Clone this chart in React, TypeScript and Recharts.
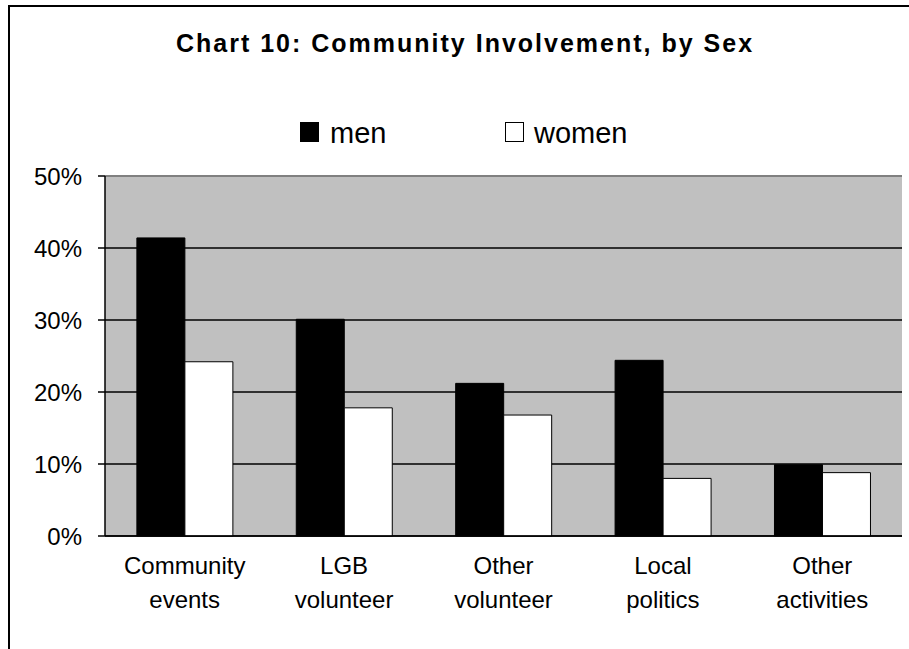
import React from "react";
import { BarChart, Bar, XAxis, YAxis, CartesianGrid, Legend, ReferenceLine } from "recharts";

// values
const categories = ["Community\nevents", "LGB\nvolunteer", "Other\nvolunteer", "Local\npolitics", "Other\nactivities"];
const menValues = [0.414, 0.301, 0.212, 0.244, 0.099];
const womenValues = [0.242, 0.178, 0.168, 0.08, 0.088];
const yTicks = [0, 0.1, 0.2, 0.3, 0.4, 0.5];
const edgeTicks = [0, 1, 2, 3, 4, 5];

const FONT = "'Liberation Sans', Arial, sans-serif";

const data = categories.map((name, i) => ({
  name,
  men: menValues[i],
  women: womenValues[i],
}));

function CategoryTick({ x, y, payload }: any) {
  const lines = String(payload.value).split("\n");
  return (
    <g>
      {lines.map((line, i) => (
        <text
          key={i}
          x={x}
          y={y + 29 + i * 34}
          textAnchor="middle"
          fontFamily={FONT}
          fontSize={24}
          fill="#000"
        >
          {line}
        </text>
      ))}
    </g>
  );
}

function LegendBox() {
  const items = [
    { label: "men", fill: "#000", box: 300, text: 330 },
    { label: "women", fill: "#fff", box: 505, text: 534 },
  ];
  return (
    <svg width={909} height={45}>
      {items.map((it) => (
        <g key={it.label}>
          <rect x={it.box + 0.5} y={12.5} width={18} height={19} fill={it.fill} stroke="#000" strokeWidth={1} />
          <text x={it.text} y={33} fontFamily={FONT} fontSize={29} fill="#000">
            {it.label}
          </text>
        </g>
      ))}
    </svg>
  );
}

export default function App() {
  return (
    <div style={{ position: "absolute", left: 0, top: 0, width: 909, height: 649, overflow: "hidden", background: "#fff" }}>
      <BarChart
        width={909}
        height={649}
        data={data}
        margin={{ top: 176, right: 7, bottom: 0, left: 0 }}
        barCategoryGap="20%"
        barGap={0}
      >
        <CartesianGrid vertical={false} stroke="#000" strokeWidth={1.5} fill="#C0C0C0" fillOpacity={1} />
        <XAxis
          xAxisId="edges"
          type="number"
          domain={[0, 5]}
          ticks={edgeTicks}
          allowDataOverflow
          height={0}
          axisLine={false}
          tickLine={{ stroke: "#000", strokeWidth: 1.5 }}
          tickSize={7}
          tickFormatter={() => ""}
        />
        <XAxis
          dataKey="name"
          height={113}
          axisLine={{ stroke: "#000", strokeWidth: 1.5 }}
          tickLine={false}
          tickSize={7}
          tickMargin={2}
          tick={<CategoryTick />}
          interval={0}
        />
        <YAxis
          width={105}
          domain={[0, 0.5]}
          ticks={yTicks}
          tickFormatter={(v: number) => `${Math.round(v * 100)}%`}
          axisLine={{ stroke: "#000", strokeWidth: 1.5 }}
          tickLine={{ stroke: "#000", strokeWidth: 1.5 }}
          tickSize={7}
          tickMargin={16}
          tick={{ fill: "#000", fontSize: 24, fontFamily: FONT }}
        />
        <ReferenceLine y={0.5} stroke="#808080" strokeWidth={2} />
        <ReferenceLine xAxisId="edges" x={5} stroke="#808080" strokeWidth={2} />
        <Legend
          layout="horizontal"
          verticalAlign="middle"
          align="center"
          wrapperStyle={{ top: 110, left: 0, width: 909, height: 45 }}
          content={() => <LegendBox />}
        />
        <Bar dataKey="men" name="men" fill="#000" stroke="#000" strokeWidth={1} isAnimationActive={false} />
        <Bar dataKey="women" name="women" fill="#fff" stroke="#000" strokeWidth={1} isAnimationActive={false} />
      </BarChart>
      <svg width={909} height={70} style={{ position: "absolute", left: 0, top: 0, pointerEvents: "none" }}>
        <text
          x={465}
          y={52}
          textAnchor="middle"
          fontFamily={FONT}
          fontWeight="bold"
          fontSize={25}
          letterSpacing={2}
          fill="#000"
        >
          Chart 10: Community Involvement, by Sex
        </text>
      </svg>
      <div
        style={{
          position: "absolute",
          left: 8,
          top: 5,
          width: 960,
          height: 700,
          border: "2px solid #000",
          pointerEvents: "none",
        }}
      />
    </div>
  );
}
